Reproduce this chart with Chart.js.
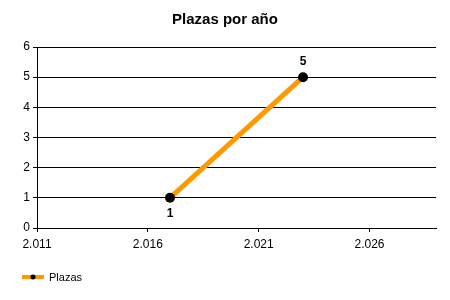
<!DOCTYPE html>
<html>
<head>
<meta charset="utf-8">
<script src="https://cdn.jsdelivr.net/npm/chart.js@4"></script>
<style>
html,body{margin:0;padding:0;background:#fff;}
#wrap{width:450px;height:300px;position:relative;}
</style>
</head>
<body>
<div id="wrap"><canvas id="c" width="450" height="300"></canvas></div>
<script>
const title = "Plazas por año";
const seriesName = "Plazas";
const years = [2017, 2023];
const plazas = [1, 5];
const xTicks = [2011, 2016, 2021, 2026];
const xMin = 2011, xMax = 2029;
const yMin = 0, yMax = 6;

function fmtThousands(v){
  const s = String(Math.round(v));
  return s.replace(/\B(?=(\d{3})+(?!\d))/g, '.');
}

const FONT = "'Liberation Sans', Arial, sans-serif";

const custom = {
  id: 'custom',
  afterDatasetsDraw(chart){
    const ctx = chart.ctx;
    const meta = chart.getDatasetMeta(0);
    ctx.save();
    ctx.fillStyle = '#000';
    ctx.font = 'bold 12px ' + FONT;
    ctx.textAlign = 'center';
    meta.data.forEach((pt, i) => {
      const v = plazas[i];
      const below = i === 0;
      ctx.textBaseline = 'middle';
      ctx.fillText(String(v), pt.x, below ? pt.y + 16 : pt.y - 15);
    });
    ctx.restore();
  },
  afterDraw(chart){
    const ctx = chart.ctx;
    ctx.save();
    ctx.fillStyle = '#000';
    ctx.font = 'bold 15px ' + FONT;
    ctx.textAlign = 'center';
    ctx.textBaseline = 'alphabetic';
    ctx.fillText(title, 225, 24);
    ctx.strokeStyle = '#FF9900';
    ctx.lineWidth = 4;
    ctx.beginPath();
    ctx.moveTo(22, 277);
    ctx.lineTo(44, 277);
    ctx.stroke();
    ctx.fillStyle = '#000';
    ctx.beginPath();
    ctx.arc(33, 277, 2.5, 0, Math.PI*2);
    ctx.fill();
    ctx.font = '11px ' + FONT;
    ctx.textAlign = 'left';
    ctx.textBaseline = 'middle';
    ctx.fillText(seriesName, 49, 278);
    ctx.restore();
  }
};

new Chart(document.getElementById('c'), {
  type: 'scatter',
  data: {
    datasets: [{
      label: seriesName,
      data: years.map((y, i) => ({x: y, y: plazas[i]})),
      showLine: true,
      borderColor: '#FF9900',
      borderWidth: 5,
      pointBackgroundColor: '#000',
      pointBorderColor: '#000',
      pointRadius: 5,
      pointBorderWidth: 0,
      tension: 0
    }]
  },
  options: {
    responsive: false,
    animation: false,
    devicePixelRatio: 1,
    layout: { padding: { top: 47, right: 14, left: 0, bottom: 0 } },
    plugins: {
      legend: { display: false },
      title: { display: false },
      tooltip: { enabled: false }
    },
    scales: {
      x: {
        type: 'linear',
        min: xMin,
        max: xMax,
        afterBuildTicks(scale){ scale.ticks = xTicks.map(v => ({value: v})); },
        afterFit(scale){ scale.height = 72; },
        grid: { drawOnChartArea: false, color: '#000', tickLength: 4, lineWidth: 1 },
        border: { color: '#000', width: 1 },
        ticks: {
          color: '#000',
          font: { family: FONT, size: 12 },
          padding: 5,
          maxRotation: 0,
          callback: v => fmtThousands(v)
        }
      },
      y: {
        min: yMin,
        max: yMax,
        afterFit(scale){ scale.width = 37; },
        grid: { color: '#000', tickLength: 4, lineWidth: 1 },
        border: { color: '#000', width: 1 },
        ticks: {
          stepSize: 1,
          color: '#000',
          font: { family: FONT, size: 12 },
          padding: 3
        }
      }
    }
  },
  plugins: [custom]
});
</script>
</body>
</html>
